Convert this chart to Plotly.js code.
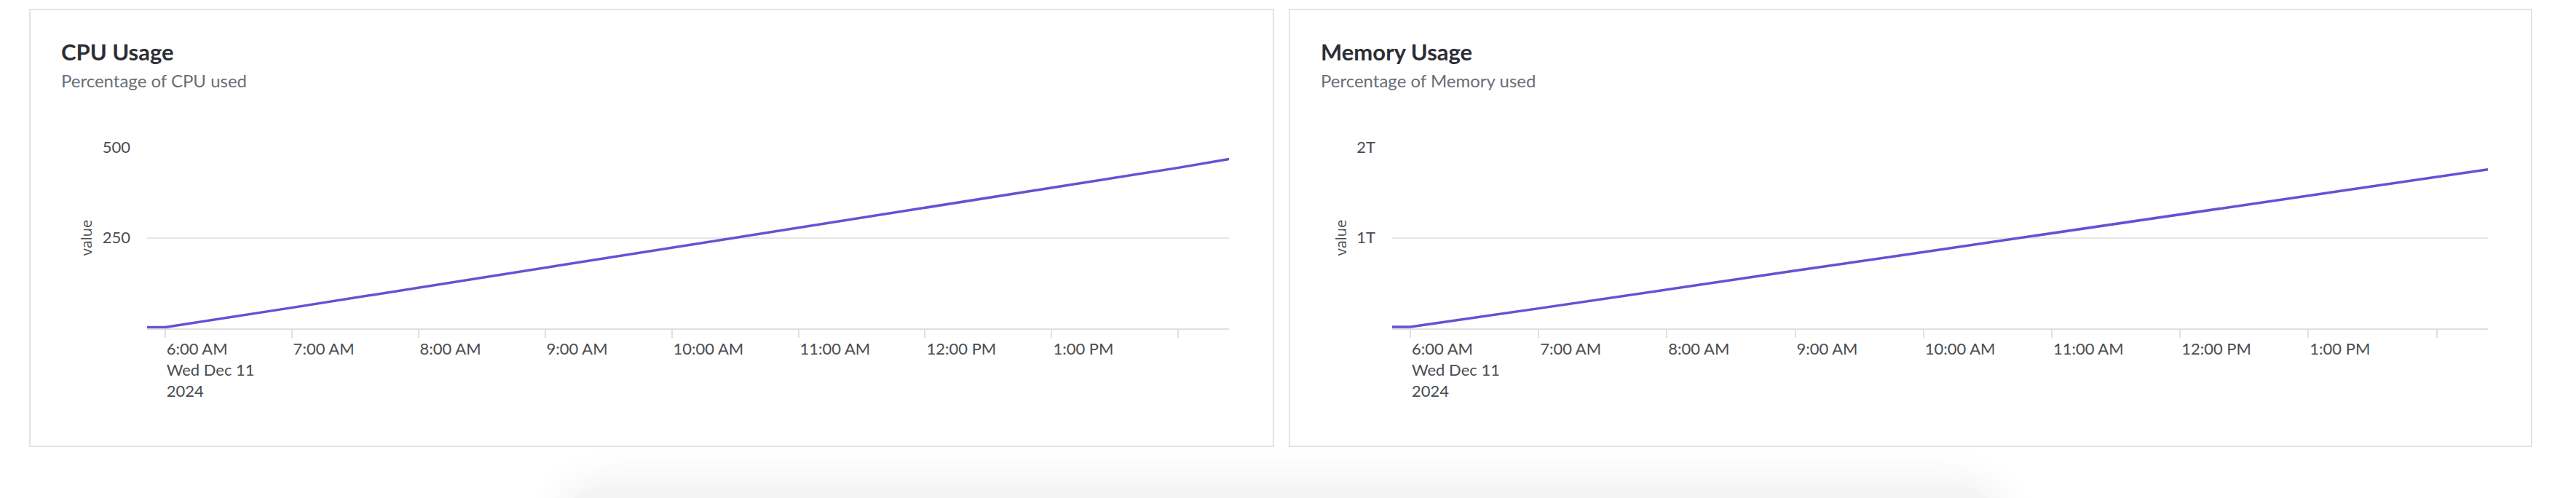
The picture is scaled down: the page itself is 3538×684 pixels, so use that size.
<!DOCTYPE html>
<html>
<head>
<meta charset="utf-8">
<script src="https://cdn.plot.ly/plotly-3.0.1.min.js"></script>
<style>
  html, body { margin: 0; padding: 0; background: #ffffff; overflow: hidden; }
  #wrap { position: relative; width: 3538px; height: 684px; }
  #blob { position: absolute; left: 770px; top: 668px; width: 1980px; height: 300px;
          border-radius: 60px; background: #f4f4f4;
          box-shadow: 0 0 45px 18px rgba(0,0,0,0.045); }
  #chart { position: absolute; left: 0; top: 0; width: 3538px; height: 684px; }
</style>
</head>
<body>
<div id="wrap">
  <div id="blob"></div>
  <div id="chart"></div>
</div>
<script>
// ---- data ----
const times = [
  '2024-12-11 05:51:30', '2024-12-11 06:00:00', '2024-12-11 07:00:00',
  '2024-12-11 08:00:00', '2024-12-11 09:00:00', '2024-12-11 10:00:00',
  '2024-12-11 11:00:00', '2024-12-11 12:00:00', '2024-12-11 13:00:00',
  '2024-12-11 14:00:00', '2024-12-11 14:24:00'
];
const cpuValues = [3, 3, 57, 112, 167, 222, 278, 333, 388, 443, 467];
const memValues = [0.016e12, 0.016e12, 0.22e12, 0.43e12, 0.636e12, 0.842e12,
                   1.05e12, 1.255e12, 1.46e12, 1.67e12, 1.754e12];

const xTickVals = [
  '2024-12-11 06:00:00', '2024-12-11 07:00:00', '2024-12-11 08:00:00',
  '2024-12-11 09:00:00', '2024-12-11 10:00:00', '2024-12-11 11:00:00',
  '2024-12-11 12:00:00', '2024-12-11 13:00:00', '2024-12-11 14:00:00'
];
const xTickText = ['6:00 AM<br>Wed Dec 11<br>2024', '7:00 AM', '8:00 AM', '9:00 AM',
                   '10:00 AM', '11:00 AM', '12:00 PM', '1:00 PM', ''];
const cpuTickVals = [250, 500];
const memTickVals = [1e12, 2e12];

const panelTitles = ['CPU Usage', 'Memory Usage'];
const panelSubtitles = ['Percentage of CPU used', 'Percentage of Memory used'];

// ---- layout helpers (pixel geometry) ----
const W = 3538, H = 684;
const px = v => v / W;
const py = v => 1 - v / H;

const lineColor = '#6a4fd4';
const gridColor = '#e6e6e6';
const tickFont = { family: 'Lato, sans-serif', size: 22, color: '#4a4c52' };

function xAxis(d0, d1, anchor) {
  return {
    type: 'date', domain: [px(d0), px(d1)], anchor: anchor,
    tickmode: 'array', tickvals: xTickVals, ticktext: xTickText,
    ticks: 'outside', ticklen: 11, tickwidth: 2, tickcolor: '#e0e0e0',
    ticklabelposition: 'outside right', ticklabelstandoff: 8, ticklabelshift: 0,
    showline: true, linecolor: '#e0e0e0', linewidth: 2,
    showgrid: false, zeroline: false, tickfont: tickFont,
    fixedrange: true
  };
}
function yAxis(d0, d1, anchor, tickvals, range, fmt) {
  const a = {
    domain: [py(d1), py(d0)], anchor: anchor, range: range,
    tickmode: 'array', tickvals: tickvals,
    ticks: '', ticklabelstandoff: 22,
    showgrid: true, gridcolor: gridColor, gridwidth: 2,
    zeroline: false, showline: false, tickfont: tickFont,
    title: { text: 'value', font: { family: 'Open Sans, sans-serif', size: 20, color: '#4a4c52' }, standoff: 8 },
    fixedrange: true
  };
  if (fmt) a.tickformat = fmt;
  return a;
}

const traces = [
  { x: times, y: cpuValues, type: 'scatter', mode: 'lines', xaxis: 'x', yaxis: 'y',
    line: { color: lineColor, width: 3.5 }, hoverinfo: 'skip' },
  { x: times, y: memValues, type: 'scatter', mode: 'lines', xaxis: 'x2', yaxis: 'y2',
    line: { color: lineColor, width: 3.5 }, hoverinfo: 'skip' }
];

const cards = [[41, 1749], [1771, 3477]];
const shapes = cards.map(c => ({
  type: 'rect', xref: 'paper', yref: 'paper', layer: 'below',
  x0: px(c[0]), x1: px(c[1]), y0: py(613), y1: py(13),
  line: { color: '#e3e3e3', width: 2 }, fillcolor: '#ffffff'
}));

const titleX = [82, 1812];
const annotations = [];
titleX.forEach((xp, i) => {
  annotations.push({ xref: 'paper', yref: 'paper', x: px(xp), y: py(71), xanchor: 'left', yanchor: 'middle',
    showarrow: false, text: panelTitles[i],
    font: { family: 'Lato, sans-serif', size: 31, color: '#2c2e35', weight: 700 } });
  annotations.push({ xref: 'paper', yref: 'paper', x: px(xp), y: py(111), xanchor: 'left', yanchor: 'middle',
    showarrow: false, text: panelSubtitles[i],
    font: { family: 'Lato, sans-serif', size: 24, color: '#6b6e76' } });
});

const layout = {
  width: W, height: H,
  margin: { l: 0, r: 0, t: 0, b: 0 },
  paper_bgcolor: 'rgba(0,0,0,0)', plot_bgcolor: 'rgba(0,0,0,0)',
  showlegend: false,
  xaxis: xAxis(202, 1688, 'y'),
  yaxis: yAxis(202, 451, 'x', cpuTickVals, [0, 500]),
  xaxis2: xAxis(1912, 3417, 'y2'),
  yaxis2: yAxis(202, 451, 'x2', memTickVals, [0, 2e12], '~s'),
  shapes: shapes,
  annotations: annotations
};

Plotly.newPlot('chart', traces, layout, { displayModeBar: false, staticPlot: true });
</script>
</body>
</html>
